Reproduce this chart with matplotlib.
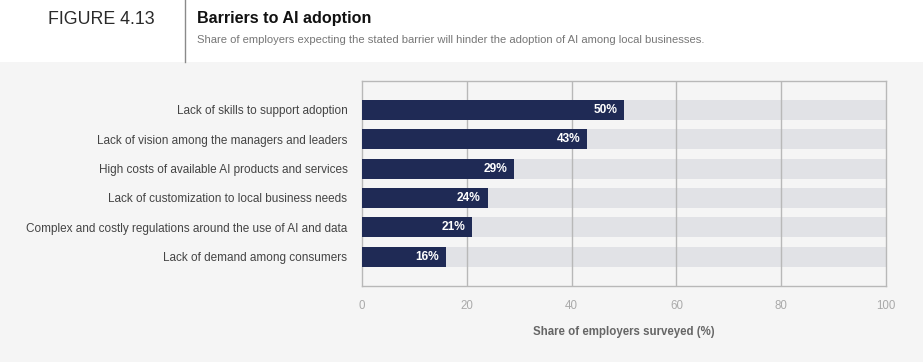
import matplotlib
matplotlib.use("Agg")
import matplotlib.pyplot as plt
from matplotlib.patches import Rectangle
from matplotlib.lines import Line2D

categories = [
    "Lack of skills to support adoption",
    "Lack of vision among the managers and leaders",
    "High costs of available AI products and services",
    "Lack of customization to local business needs",
    "Complex and costly regulations around the use of AI and data",
    "Lack of demand among consumers",
]
values = [50, 43, 29, 24, 21, 16]
xticks = [0, 20, 40, 60, 80, 100]

plt.rcParams['font.family'] = ['Liberation Sans', 'DejaVu Sans']

W, H = 923, 362
fig = plt.figure(figsize=(W / 100, H / 100), dpi=100)
fig.patch.set_facecolor('white')

# gray background band
fig.patches.append(Rectangle((0, 0), 1, 1 - 62 / H, transform=fig.transFigure,
                             facecolor='#f5f5f5', edgecolor='none', zorder=-10))
# divider line in header
fig.lines.append(Line2D([185 / W, 185 / W], [1, 1 - 62 / H], transform=fig.transFigure,
                        color='#8a8a8a', lw=1.0, zorder=-5))

fig.text(48 / W, 1 - 19 / H, "FIGURE 4.13", fontsize=12.8, color='#2a2a2a',
         va='center', ha='left')
fig.text(197 / W, 1 - 19 / H, "Barriers to AI adoption", fontsize=11.6,
         fontweight='bold', color='#111111', va='center', ha='left')
fig.text(197 / W, 1 - 40 / H,
         "Share of employers expecting the stated barrier will hinder the adoption of AI among local businesses.",
         fontsize=8.1, color='#777777', va='center', ha='left')

ax = fig.add_axes([362 / W, 1 - 286 / H, 524 / W, 205 / H])
ax.set_facecolor('none')

y = list(range(len(categories)))
ax.barh(y, [100] * len(y), height=0.68, color='#e1e2e6', zorder=1)
for xv in xticks[1:-1]:
    ax.axvline(xv, color='#b8b8b8', lw=1.0, zorder=2)
ax.barh(y, values, height=0.68, color='#1f2a55', zorder=3)

for yi, v in zip(y, values):
    ax.text(v - 1.3, yi, f"{v}%", color='white', fontweight='bold', fontsize=8.6,
            ha='right', va='center', zorder=4)

ax.set_xlim(0, 100)
ax.set_ylim(6.0, -0.98)
ax.set_yticks(y)
ax.set_yticklabels(categories, fontsize=8.5, color='#444444')
ax.set_xticks(xticks)
ax.set_xticklabels([str(t) for t in xticks], fontsize=8.3, color='#aaaaaa')
ax.tick_params(axis='both', length=0)
ax.tick_params(axis='y', pad=10.5)
ax.tick_params(axis='x', pad=10)
for s in ax.spines.values():
    s.set_color('#b8b8b8')
    s.set_linewidth(1.0)

ax.set_xlabel("Share of employers surveyed (%)", fontsize=8.3, fontweight='bold',
              color='#666666', labelpad=10)

fig.savefig("out.png", dpi=100)
